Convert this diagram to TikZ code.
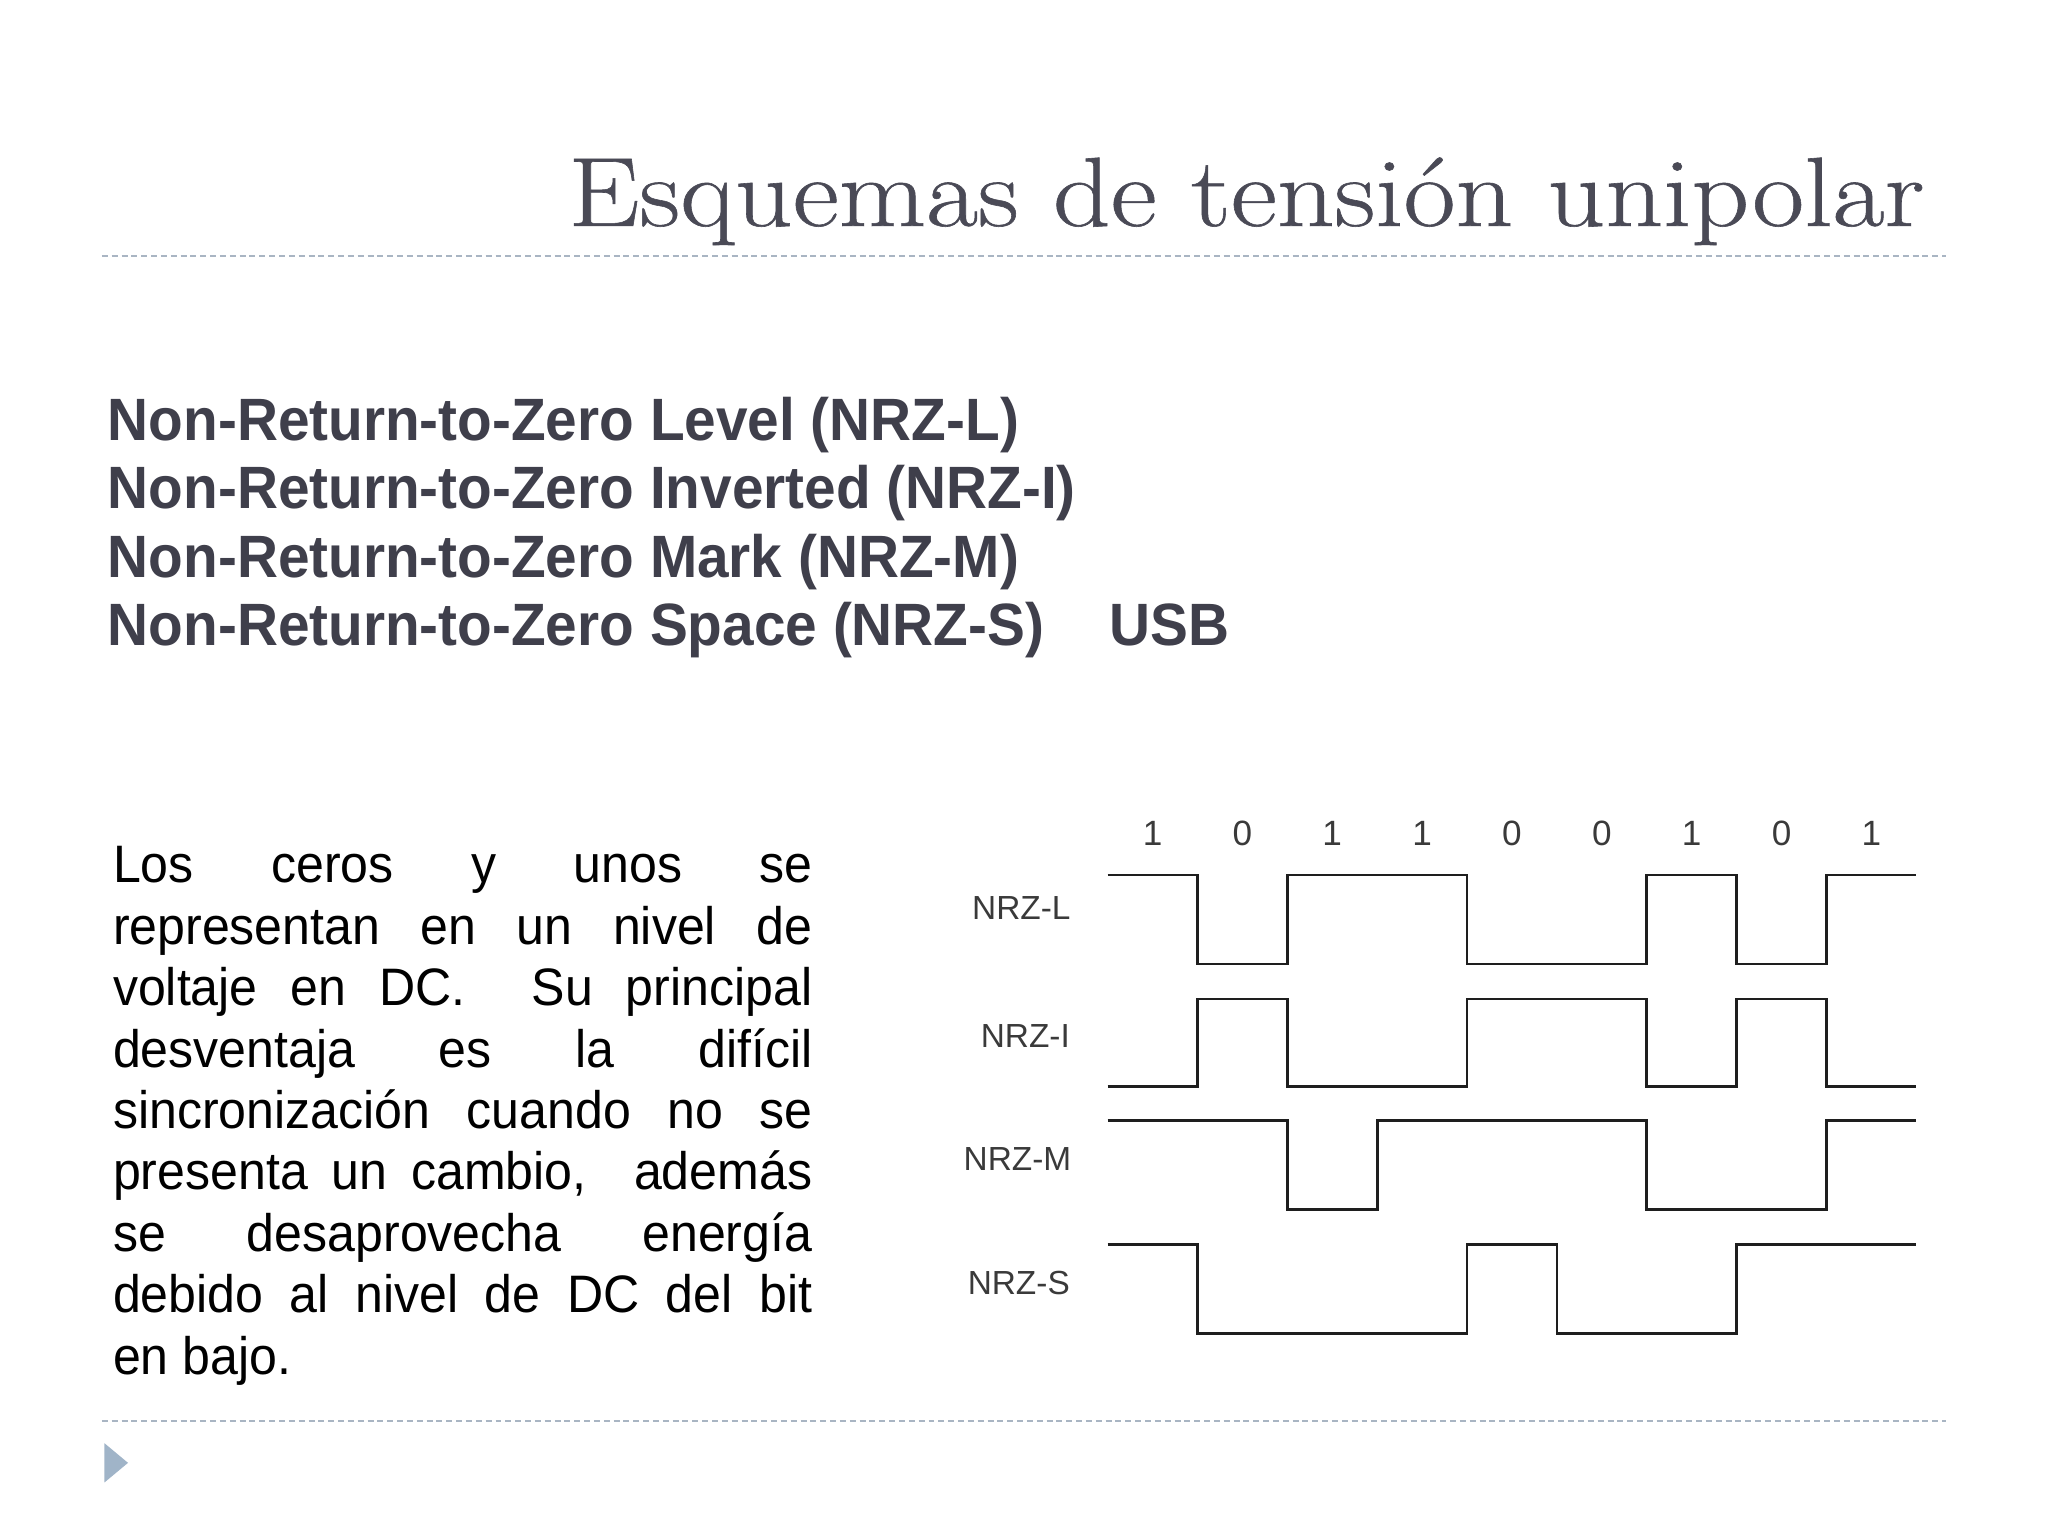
\documentclass[tikz,border=0pt]{standalone}
\usepackage{fontspec}
\newfontfamily\titlefont{Latin Modern Roman}[FakeStretch=1.15, FakeBold=0.6]
\newfontfamily\listfont{Liberation Sans}[FakeStretch=0.95]
\newfontfamily\parafont{Liberation Sans}[FakeStretch=0.95]
\newfontfamily\labfont{Liberation Sans}
\definecolor{titlecol}{HTML}{4A4A56}
\definecolor{listcol}{HTML}{3F3F4B}
\definecolor{rulecol}{HTML}{A9B5C3}
\definecolor{tricol}{HTML}{A0B4C8}
\definecolor{wavecol}{HTML}{1E1E1E}
\definecolor{labcol}{HTML}{3A3A3A}
\tikzset{
  ruleline/.style={draw=rulecol, line width=0.6pt, dash pattern=on 1.7pt off 1.1pt},
  wave/.style={draw=wavecol, line width=0.75pt, line join=miter},
  listitem/.style={anchor=base west, inner sep=0pt, text=listcol, font=\listfont\bfseries\fontsize{17}{20}\selectfont},
  paraline/.style={anchor=base west, inner sep=0pt, text=black, font=\parafont\fontsize{15}{18}\selectfont},
  wavelab/.style={anchor=center, inner sep=0pt, text=labcol, font=\labfont\fontsize{9.5}{11}\selectfont},
  bitlab/.style={anchor=center, inner sep=0pt, text=labcol, font=\labfont\fontsize{10}{12}\selectfont},
}
\begin{document}
\begin{tikzpicture}[x=0.0130612cm, y=-0.0130612cm]
\useasboundingbox[fill=white] (0,0) rectangle (1568,1176);

% title
\node[anchor=base east, inner sep=0pt, text=titlecol, font=\titlefont\fontsize{28}{32}\selectfont] (title) at (1474,173) {Esquemas de tensión unipolar};

% rules
\coordinate (r1a) at (78,196);
\coordinate (r1b) at (1490,196);
\coordinate (r2a) at (78,1088);
\coordinate (r2b) at (1490,1088);
\draw[ruleline] (r1a) -- (r1b);
\draw[ruleline] (r2a) -- (r2b);

% bullet triangle
\fill[tricol] (80,1105) -- (98,1120) -- (80,1135) -- cycle;

% list
\node[listitem] (l1) at (82,337) {Non-Return-to-Zero Level (NRZ-L)};
\node[listitem] (l2) at (82,389.5) {Non-Return-to-Zero Inverted (NRZ-I)};
\node[listitem] (l3) at (82,442) {Non-Return-to-Zero Mark (NRZ-M)};
\node[listitem] (l4) at (82,494.5) {Non-Return-to-Zero Space (NRZ-S)};
\node[listitem] (usb) at (849,494.5) {USB};

% paragraph
\def\pw{199pt}
\node[paraline] (p1) at (86,676) {\makebox[\pw][s]{Los ceros y unos se}};
\node[paraline] (p2) at (86,723) {\makebox[\pw][s]{representan en un nivel de}};
\node[paraline] (p3) at (86,770) {\makebox[\pw][s]{voltaje en DC.\ \ Su principal}};
\node[paraline] (p4) at (86,817) {\makebox[\pw][s]{desventaja es la difícil}};
\node[paraline] (p5) at (86,864) {\makebox[\pw][s]{sincronización cuando no se}};
\node[paraline] (p6) at (86,911) {\makebox[\pw][s]{presenta un cambio,\ \ además}};
\node[paraline] (p7) at (86,958) {\makebox[\pw][s]{se desaprovecha energía}};
\node[paraline] (p8) at (86,1005) {\makebox[\pw][s]{debido al nivel de DC del bit}};
\node[paraline] (p9) at (86,1052) {en bajo.};

% bit labels
\node[bitlab] (bit1) at (882.4,638) {1};
\node[bitlab] (bit2) at (951.2,638) {0};
\node[bitlab] (bit3) at (1020,638) {1};
\node[bitlab] (bit4) at (1088.8,638) {1};
\node[bitlab] (bit5) at (1157.6,638) {0};
\node[bitlab] (bit6) at (1226.4,638) {0};
\node[bitlab] (bit7) at (1295.2,638) {1};
\node[bitlab] (bit8) at (1364,638) {0};
\node[bitlab] (bit9) at (1432.8,638) {1};

% waveform labels
\node[wavelab] (nrzl) at (782,695) {NRZ-L};
\node[wavelab] (nrzi) at (785,793) {NRZ-I};
\node[wavelab] (nrzm) at (779,887) {NRZ-M};
\node[wavelab] (nrzs) at (780,982) {NRZ-S};

% NRZ-L
\draw[wave] (848,670) -- (916.8,670) -- (916.8,738) -- (985.6,738) -- (985.6,670) -- (1123.2,670) -- (1123.2,738) -- (1260.8,738) -- (1260.8,670) -- (1329.6,670) -- (1329.6,738) -- (1398.4,738) -- (1398.4,670) -- (1467.2,670);
% NRZ-I
\draw[wave] (848,832) -- (916.8,832) -- (916.8,765) -- (985.6,765) -- (985.6,832) -- (1123.2,832) -- (1123.2,765) -- (1260.8,765) -- (1260.8,832) -- (1329.6,832) -- (1329.6,765) -- (1398.4,765) -- (1398.4,832) -- (1467.2,832);
% NRZ-M
\draw[wave] (848,858) -- (985.6,858) -- (985.6,926) -- (1054.4,926) -- (1054.4,858) -- (1260.8,858) -- (1260.8,926) -- (1398.4,926) -- (1398.4,858) -- (1467.2,858);
% NRZ-S
\draw[wave] (848,953) -- (916.8,953) -- (916.8,1021) -- (1123.2,1021) -- (1123.2,953) -- (1192,953) -- (1192,1021) -- (1329.6,1021) -- (1329.6,953) -- (1467.2,953);
\end{tikzpicture}
\end{document}
